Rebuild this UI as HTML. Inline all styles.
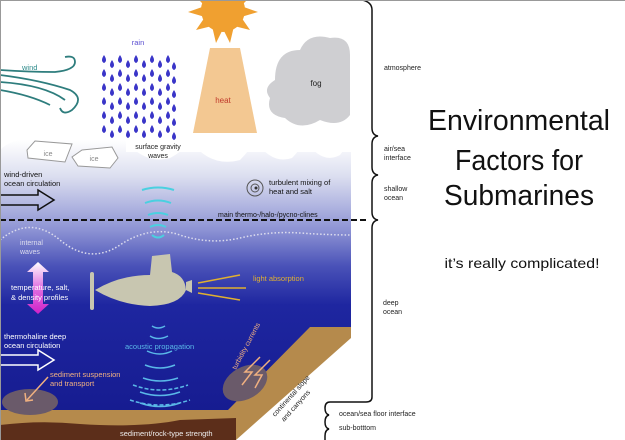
<!DOCTYPE html>
<html><head><meta charset="utf-8"><style>
html,body{margin:0;padding:0;background:#fff;width:625px;height:440px;overflow:hidden}
svg{display:block;font-family:"Liberation Sans",sans-serif}
</style></head><body>
<svg width="625" height="440" viewBox="0 0 625 440" xmlns="http://www.w3.org/2000/svg">
<defs>
<linearGradient id="sea" x1="0" y1="0" x2="0" y2="1">
<stop offset="0" stop-color="#ffffff"/>
<stop offset="0.12" stop-color="#dcdff0"/>
<stop offset="0.3" stop-color="#8d93d4"/>
<stop offset="0.42" stop-color="#4a52b8"/>
<stop offset="0.55" stop-color="#1e26a0"/>
<stop offset="1" stop-color="#14198c"/>
</linearGradient>
<linearGradient id="pk" x1="0" y1="0" x2="0" y2="1">
<stop offset="0" stop-color="#fff"/><stop offset="0.5" stop-color="#e070e0"/><stop offset="1" stop-color="#d020c8"/>
</linearGradient>
</defs>
<rect x="0" y="140" width="351" height="300" fill="url(#sea)"/>
<path d="M0,140 L0,150 Q8,142 20,140 Z" fill="#fff"/>
<path d="M125,140 Q145,165 170,158 Q185,150 190,140 Z M190,140 Q210,168 240,160 Q250,150 255,140Z M255,140 Q272,165 292,158 Q300,150 305,140Z M305,140 Q322,165 340,155 L351,140Z" fill="#fff"/>
<rect x="126" y="140" width="225" height="12" fill="#fff"/>
<path d="M0,410 L228,410 L310,327 L351,327 L351,440 L0,440Z" fill="#b58a4c"/>
<path d="M0,425 Q40,420 80,424 Q140,428 180,420 L236,418 L236,440 L0,440Z" fill="#5c2e1a"/>
<path d="M236,440 L351,338 L351,440Z" fill="#fff"/>
<line x1="0" y1="220" x2="368" y2="220" stroke="#111" stroke-width="2" stroke-dasharray="6,3"/>
<path d="M0,240 Q30,215 60,240 T120,245 T180,235 T240,238 T300,233 T350,235" fill="none" stroke="#dde" stroke-width="1.5" stroke-dasharray="1.5,2"/>
<g fill="#f0a030">
<circle cx="223" cy="10" r="22"/>
<path d="M223,-25 L228,-8 L240,-20 L236,-3 L253,-6 L241,6 L258,12 L241,17 L250,30 L234,26 L230,43 L223,29 L216,43 L212,26 L196,30 L205,17 L188,12 L205,6 L193,-6 L210,-3 L206,-20 L218,-8Z"/>
</g>
<path d="M210,48 L240,48 L257,133 L193,133Z" fill="#f3c892"/>
<text x="223" y="103" font-size="8" fill="#c0392b" text-anchor="middle">heat</text>
<path d="M275,80 Q275,50 300,50 Q308,32 330,38 Q350,35 350,55 L350,115 Q340,128 320,120 Q300,132 285,118 Q265,115 270,98 Q262,88 275,80Z" fill="#cfcfd2"/>
<text x="316" y="86" font-size="8" fill="#222" text-anchor="middle">fog</text>
<g fill="none" stroke="#2e7d7d" stroke-width="1.8">
<path d="M0,75 Q40,80 70,90 Q85,98 72,110 Q63,116 60,108"/>
<path d="M0,82 Q45,85 65,100"/>
<path d="M0,70 Q30,72 55,72 Q75,70 75,62 Q75,55 65,57"/>
<path d="M0,90 Q30,95 50,105"/>
</g>
<text x="22" y="70" font-size="7.5" fill="#2e8b8b">wind</text>
<text x="138" y="45" font-size="7.5" fill="#5a4ed0" text-anchor="middle">rain</text>
<g fill="#3a35c8" id="r">
<path d="M104,55 q-4,6 0,8 q4,-2 0,-8Z M112,60 q-4,6 0,8 q4,-2 0,-8Z M120,55 q-4,6 0,8 q4,-2 0,-8Z M128,60 q-4,6 0,8 q4,-2 0,-8Z M136,55 q-4,6 0,8 q4,-2 0,-8Z M144,60 q-4,6 0,8 q4,-2 0,-8Z M152,55 q-4,6 0,8 q4,-2 0,-8Z M160,60 q-4,6 0,8 q4,-2 0,-8Z M168,55 q-4,6 0,8 q4,-2 0,-8Z M174,62 q-4,6 0,8 q4,-2 0,-8Z"/>
</g>
<use href="#r" y="14"/><use href="#r" y="28"/><use href="#r" y="42"/><use href="#r" y="56"/><use href="#r" y="70"/>
<g fill="#fff" stroke="#999" stroke-width="1">
<path d="M35,141 L72,144 L65,162 L28,158 L27,150Z"/>
<path d="M82,150 L112,147 L118,158 L110,168 L78,166 L72,157Z"/>
</g>
<text x="48" y="156" font-size="7" fill="#888" text-anchor="middle">ice</text>
<text x="94" y="161" font-size="7" fill="#888" text-anchor="middle">ice</text>
<text x="158" y="149" font-size="7" fill="#222" text-anchor="middle">surface gravity</text>
<text x="158" y="158" font-size="7" fill="#222" text-anchor="middle">waves</text>
<text x="4" y="177" font-size="7.5" fill="#111">wind-driven</text>
<text x="4" y="186" font-size="7.5" fill="#111">ocean circulation</text>
<path d="M0,195 L38,195 L38,190 L54,200 L38,210 L38,205 L0,205Z" fill="none" stroke="#111" stroke-width="1.5"/>
<circle cx="255" cy="188" r="8" fill="none" stroke="#555"/><circle cx="255" cy="188" r="4" fill="none" stroke="#555"/><circle cx="256" cy="188" r="1.5" fill="#333"/>
<text x="269" y="185" font-size="7.5" fill="#111">turbulent mixing of</text>
<text x="269" y="194" font-size="7.5" fill="#111">heat and salt</text>
<text x="218" y="217" font-size="7" fill="#111">main thermo-/halo-/pycno-clines</text>
<g fill="none" stroke="#4ad0e0" stroke-width="2">
<path d="M142,190 Q158,185 174,190"/><path d="M145,203 Q158,198 171,203"/><path d="M148,215 Q158,211 168,215"/><path d="M150,227 Q158,223 166,227"/><path d="M152,235 Q158,240 164,235"/>
</g>
<g fill="none" stroke="#5ab8e8" stroke-width="1.5">
<path d="M152,326 Q158,330 165,326"/><path d="M150,336 Q158,341 168,336"/><path d="M147,351 Q160,357 172,351"/><path d="M145,365 Q160,371 175,365"/><path d="M143,378 Q160,384 178,378"/>
<path d="M133,385 Q160,395 188,385" stroke-dasharray="4,2"/><path d="M140,392 Q160,399 180,392"/><path d="M130,400 Q160,410 190,400" stroke-dasharray="4,2"/><path d="M140,403 Q160,410 180,403"/>
</g>
<text x="125" y="349" font-size="7.5" fill="#5ab8e8">acoustic propagation</text>
<g fill="#c8c6b0">
<path d="M95,290 Q120,275 150,275 L152,256 L170,254 L172,272 Q185,276 186,290 Q180,305 150,306 Q120,305 95,290Z"/>
<path d="M186,282 L192,280 L192,293 L186,290Z"/>
<rect x="90" y="272" width="4" height="38" rx="2"/>
</g>
<g stroke="#e0b030" stroke-width="1.5"><line x1="198" y1="283" x2="240" y2="275"/><line x1="198" y1="288" x2="246" y2="288"/><line x1="198" y1="293" x2="240" y2="300"/></g>
<text x="253" y="281" font-size="7.5" fill="#e0b030">light absorption</text>
<path d="M38,262 L49,272 L43,272 L43,304 L49,304 L38,314 L27,304 L33,304 L33,272 L27,272Z" fill="url(#pk)"/>
<text x="11" y="290" font-size="7.5" fill="#fff">temperature, salt,</text>
<text x="11" y="300" font-size="7.5" fill="#fff">&amp; density profiles</text>
<text x="20" y="245" font-size="7" fill="#dde">internal</text>
<text x="20" y="254" font-size="7" fill="#dde">waves</text>
<text x="4" y="339" font-size="7.5" fill="#fff">thermohaline deep</text>
<text x="4" y="348" font-size="7.5" fill="#fff">ocean circulation</text>
<path d="M0,355 L38,355 L38,350 L54,360 L38,370 L38,365 L0,365Z" fill="none" stroke="#fff" stroke-width="1.5"/>
<ellipse cx="30" cy="402" rx="28" ry="13" fill="#6a5a6a"/>
<ellipse cx="245" cy="383" rx="24" ry="16" fill="#6a5a6a" transform="rotate(-30 245 383)"/>
<line x1="48" y1="377" x2="27" y2="400" stroke="#f0b080" stroke-width="1.5"/><path d="M25,393 L26,401 L33,400" fill="none" stroke="#f0b080" stroke-width="1.5"/>
<text x="50" y="377" font-size="7.5" fill="#f0b080">sediment suspension</text>
<text x="50" y="386" font-size="7.5" fill="#f0b080">and transport</text>
<g fill="none" stroke="#f0b080" stroke-width="1.5"><path d="M260,357 L245,372 L252,372 L242,385"/><path d="M270,360 L255,375 L262,375 L255,388"/></g>
<text transform="translate(236,370) rotate(-62)" font-size="7" fill="#f0b080">turbidity currents</text>
<text transform="translate(275,417) rotate(-48)" font-size="7" fill="#222">continental slope</text>
<text transform="translate(284,422) rotate(-48)" font-size="7" fill="#222">and canyons</text>
<text x="120" y="436" font-size="7.5" fill="#eee">sediment/rock-type strength</text>
<g fill="none" stroke="#111" stroke-width="1.5">
<path d="M362,0 Q372,2 372,10 L372,128 Q372,135 378,136 Q372,137 372,144 L372,167 Q372,174 378,175 Q372,176 372,183 L372,212 Q372,219 378,220 Q372,221 372,228 L372,397 Q372,402 366,402 L330,402 Q325,402 325,408 Q325,414 329,415 Q325,416 325,422 Q325,428 329,429 Q325,430 325,436 L325,440"/>
</g>
<g font-size="7" fill="#222">
<text x="384" y="70">atmosphere</text>
<text x="384" y="151">air/sea</text><text x="384" y="160">interface</text>
<text x="384" y="191">shallow</text><text x="384" y="200">ocean</text>
<text x="383" y="305">deep</text><text x="383" y="314">ocean</text>
<text x="339" y="416">ocean/sea floor interface</text>
<text x="339" y="430">sub-botttom</text>
</g>
<g font-size="29" fill="#111" text-anchor="middle">
<text x="519" y="130" textLength="182" lengthAdjust="spacingAndGlyphs">Environmental</text>
<text x="519" y="170" textLength="128" lengthAdjust="spacingAndGlyphs">Factors for</text>
<text x="519" y="205" textLength="150" lengthAdjust="spacingAndGlyphs">Submarines</text>
</g>
<text x="522" y="268" font-size="14" fill="#111" text-anchor="middle" textLength="155" lengthAdjust="spacingAndGlyphs">it’s really complicated!</text>
<path d="M0.5,440 L0.5,0.5 L625,0.5" fill="none" stroke="#999" stroke-width="1"/>
</svg>
</body></html>
